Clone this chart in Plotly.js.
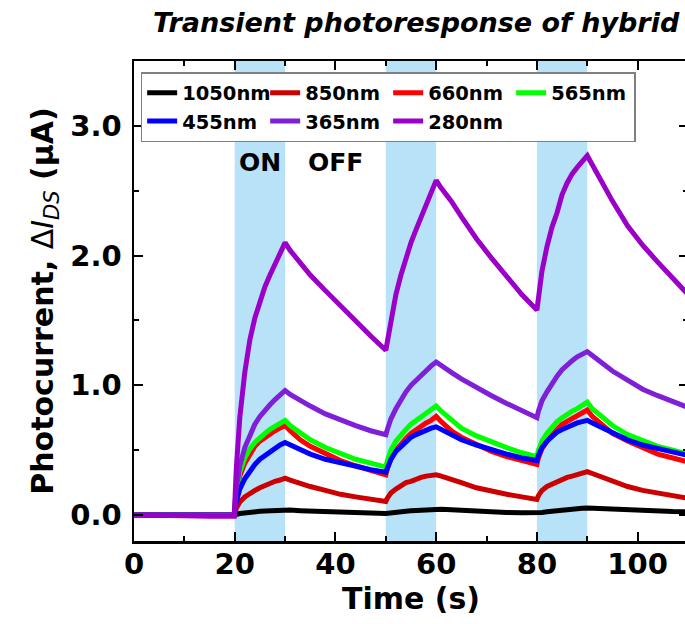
<!DOCTYPE html>
<html>
<head>
<meta charset="utf-8">
<script src="https://cdn.plot.ly/plotly-3.0.1.min.js"></script>
<style>
html, body { margin: 0; padding: 0; overflow: hidden; background: #fff; }
#chart { width: 690px; height: 624px; }
</style>
</head>
<body>
<div id="chart"></div>
<script>
// Time axis (s)
const time = [0, 5, 10, 15, 19.9,
  20.3, 21, 22, 23, 24, 25, 26, 27, 28, 29, 30,
  31, 33, 35, 38, 41, 44, 47, 50,
  50.3, 51, 52, 53, 54, 55, 56, 57, 58, 59, 60,
  61, 63, 65, 68, 71, 74, 77, 80,
  80.3, 81, 82, 83, 84, 85, 86, 87, 88, 89, 90,
  91, 93, 95, 98, 101, 104, 107, 110];

const seriesNames = ["1050nm", "850nm", "660nm", "565nm", "455nm", "365nm", "280nm"];

const i1050 = [0, 0, 0, 0, 0,
  0.005, 0.012, 0.018, 0.022, 0.026, 0.029, 0.032, 0.035, 0.037, 0.039, 0.040,
  0.038, 0.034, 0.030, 0.026, 0.022, 0.018, 0.015, 0.012,
  0.014, 0.018, 0.022, 0.026, 0.030, 0.033, 0.036, 0.039, 0.042, 0.044, 0.046,
  0.044, 0.040, 0.035, 0.030, 0.025, 0.020, 0.017, 0.014,
  0.016, 0.020, 0.025, 0.030, 0.034, 0.038, 0.042, 0.046, 0.049, 0.052, 0.055,
  0.053, 0.048, 0.044, 0.038, 0.034, 0.030, 0.027, 0.025];

const i850 = [0, 0, 0, 0, 0,
  0.05, 0.10, 0.14, 0.17, 0.19, 0.21, 0.23, 0.24, 0.26, 0.27, 0.285,
  0.27, 0.24, 0.22, 0.19, 0.16, 0.14, 0.12, 0.105,
  0.13, 0.17, 0.20, 0.23, 0.25, 0.26, 0.28, 0.29, 0.30, 0.305, 0.31,
  0.30, 0.27, 0.25, 0.21, 0.18, 0.16, 0.14, 0.12,
  0.15, 0.19, 0.22, 0.24, 0.26, 0.28, 0.29, 0.30, 0.31, 0.32, 0.335,
  0.32, 0.29, 0.26, 0.22, 0.19, 0.17, 0.15, 0.13];

const i660 = [0, 0, 0, 0, 0,
  0.15, 0.30, 0.40, 0.47, 0.53, 0.57, 0.60, 0.63, 0.65, 0.67, 0.69,
  0.65, 0.58, 0.53, 0.47, 0.42, 0.38, 0.34, 0.31,
  0.36, 0.43, 0.50, 0.55, 0.59, 0.63, 0.66, 0.69, 0.71, 0.73, 0.76,
  0.72, 0.65, 0.60, 0.54, 0.49, 0.45, 0.42, 0.39,
  0.44, 0.51, 0.57, 0.62, 0.66, 0.70, 0.72, 0.75, 0.77, 0.79, 0.81,
  0.76, 0.69, 0.63, 0.57, 0.52, 0.47, 0.44, 0.41];

const i565 = [0, 0, 0, 0, 0,
  0.18, 0.33, 0.44, 0.51, 0.56, 0.60, 0.63, 0.66, 0.68, 0.71, 0.73,
  0.69, 0.63, 0.58, 0.52, 0.47, 0.43, 0.40, 0.37,
  0.42, 0.50, 0.57, 0.62, 0.66, 0.70, 0.73, 0.76, 0.79, 0.81, 0.84,
  0.80, 0.73, 0.67, 0.61, 0.56, 0.52, 0.48, 0.45,
  0.50, 0.57, 0.63, 0.68, 0.72, 0.75, 0.78, 0.80, 0.82, 0.85, 0.87,
  0.82, 0.75, 0.69, 0.62, 0.57, 0.53, 0.50, 0.47];

const i455 = [0, 0, 0, 0, 0,
  0.10, 0.20, 0.28, 0.34, 0.39, 0.43, 0.46, 0.49, 0.51, 0.54, 0.56,
  0.54, 0.50, 0.47, 0.43, 0.40, 0.37, 0.35, 0.33,
  0.37, 0.43, 0.49, 0.53, 0.57, 0.60, 0.62, 0.64, 0.66, 0.67, 0.68,
  0.66, 0.62, 0.58, 0.54, 0.50, 0.47, 0.44, 0.42,
  0.46, 0.52, 0.57, 0.61, 0.64, 0.66, 0.68, 0.70, 0.71, 0.72, 0.73,
  0.71, 0.67, 0.63, 0.58, 0.54, 0.51, 0.48, 0.46];

const i365 = [0, 0, 0, 0, 0,
  0.20, 0.38, 0.52, 0.62, 0.70, 0.76, 0.81, 0.85, 0.89, 0.93, 0.96,
  0.93, 0.88, 0.84, 0.78, 0.73, 0.69, 0.65, 0.62,
  0.66, 0.74, 0.82, 0.89, 0.95, 1.00, 1.04, 1.08, 1.12, 1.15, 1.18,
  1.15, 1.10, 1.05, 0.98, 0.92, 0.86, 0.80, 0.75,
  0.80, 0.88, 0.95, 1.02, 1.07, 1.12, 1.16, 1.19, 1.22, 1.24, 1.26,
  1.23, 1.17, 1.11, 1.04, 0.97, 0.92, 0.87, 0.83];

const i280 = [0, 0, -0.005, -0.01, -0.01,
  0.35, 0.75, 1.10, 1.35, 1.52, 1.65, 1.76, 1.85, 1.94, 2.02, 2.10,
  2.04, 1.94, 1.85, 1.73, 1.61, 1.49, 1.38, 1.27,
  1.33, 1.50, 1.70, 1.85, 1.98, 2.10, 2.20, 2.30, 2.40, 2.50, 2.58,
  2.52, 2.42, 2.30, 2.13, 1.98, 1.84, 1.70, 1.58,
  1.68, 1.88, 2.07, 2.22, 2.33, 2.47, 2.56, 2.63, 2.68, 2.72, 2.77,
  2.70, 2.56, 2.42, 2.23, 2.08, 1.95, 1.82, 1.70];

const seriesValues = [i1050, i850, i660, i565, i455, i365, i280];
const seriesColors = ["#000000", "#cc0000", "#ff0000", "#00ff00", "#0000ff", "#7f1fd8", "#9a00c8"];

// Light-on intervals (s)
const onStarts = [20, 50, 80];
const onEnds = [30, 60, 90];

const xTickVals = [0, 20, 40, 60, 80, 100];
const yTickVals = [0, 1, 2, 3];
const yTickText = ["0.0", "1.0", "2.0", "3.0"];

const FONT = "DejaVu Sans";

const traces = seriesNames.map((name, k) => ({
  type: "scatter",
  mode: "lines",
  name: name,
  x: time,
  y: seriesValues[k],
  line: { color: seriesColors[k], width: 5 },
  hoverinfo: "skip"
}));

const shapes = onStarts.map((s, k) => ({
  type: "rect", xref: "x", yref: "paper",
  x0: s, x1: onEnds[k], y0: 0, y1: 1,
  fillcolor: "#b7e2f8", line: { width: 0 }, layer: "below"
}));

const layout = {
  width: 690,
  height: 624,
  margin: { l: 134, r: 2, t: 61, b: 83 },
  paper_bgcolor: "#ffffff",
  plot_bgcolor: "#ffffff",
  font: { family: FONT, color: "#000000", weight: "bold" },
  showlegend: true,
  title: {
    text: "Transient photoresponse of hybrid",
    font: { family: FONT, size: 27, weight: "bold", style: "italic", color: "#000" },
    x: 153 / 690, xanchor: "left", xref: "container",
    y: 1 - 23 / 624, yanchor: "middle", yref: "container"
  },
  xaxis: {
    range: [0, 110],
    showline: true, linecolor: "#000", linewidth: 2.5, mirror: "ticks",
    showgrid: false, zeroline: false,
    ticks: "inside", ticklen: 9, tickwidth: 2, tickcolor: "#000",
    tickvals: xTickVals,
    tickfont: { family: FONT, size: 29, weight: "bold", color: "#000" },
    ticklabelstandoff: -4,
    minor: { dtick: 10, tick0: 0, ticks: "inside", ticklen: 5, tickwidth: 2, tickcolor: "#000" },
    title: { text: "Time (s)", font: { family: FONT, size: 30, weight: "bold", color: "#000" }, standoff: 8 }
  },
  yaxis: {
    range: [-0.2, 3.5],
    showline: true, linecolor: "#000", linewidth: 2.5, mirror: "ticks",
    showgrid: false, zeroline: false,
    ticks: "inside", ticklen: 9, tickwidth: 2, tickcolor: "#000",
    tickvals: yTickVals, ticktext: yTickText,
    tickfont: { family: FONT, size: 29, weight: "bold", color: "#000" },
    ticklabelstandoff: 4,
    minor: { dtick: 0.5, tick0: 0, ticks: "inside", ticklen: 5, tickwidth: 2, tickcolor: "#000" },
    title: {
      text: "Photocurrent, <span style=\"font-weight:normal\">Δ<i>I<sub>DS</sub></i></span> (μA)",
      font: { family: FONT, size: 30, weight: "bold", color: "#000" }, standoff: 8
    }
  },
  legend: {
    orientation: "h",
    x: 0.012, xanchor: "left",
    y: 0.977, yanchor: "top",
    bgcolor: "#ffffff",
    bordercolor: "#808080", borderwidth: 1.5,
    font: { family: FONT, size: 19.5, weight: "bold", color: "#000" },
    entrywidth: 78, entrywidthmode: "pixels",
    traceorder: "normal"
  },
  shapes: shapes,
  annotations: [
    { x: 25, y: 2.72, xref: "x", yref: "y", text: "ON", showarrow: false,
      font: { family: FONT, size: 25, weight: "bold", color: "#000" } },
    { x: 40, y: 2.72, xref: "x", yref: "y", text: "OFF", showarrow: false,
      font: { family: FONT, size: 25, weight: "bold", color: "#000" } }
  ]
};

Plotly.newPlot("chart", traces, layout, { staticPlot: true, displayModeBar: false });
</script>
</body>
</html>
